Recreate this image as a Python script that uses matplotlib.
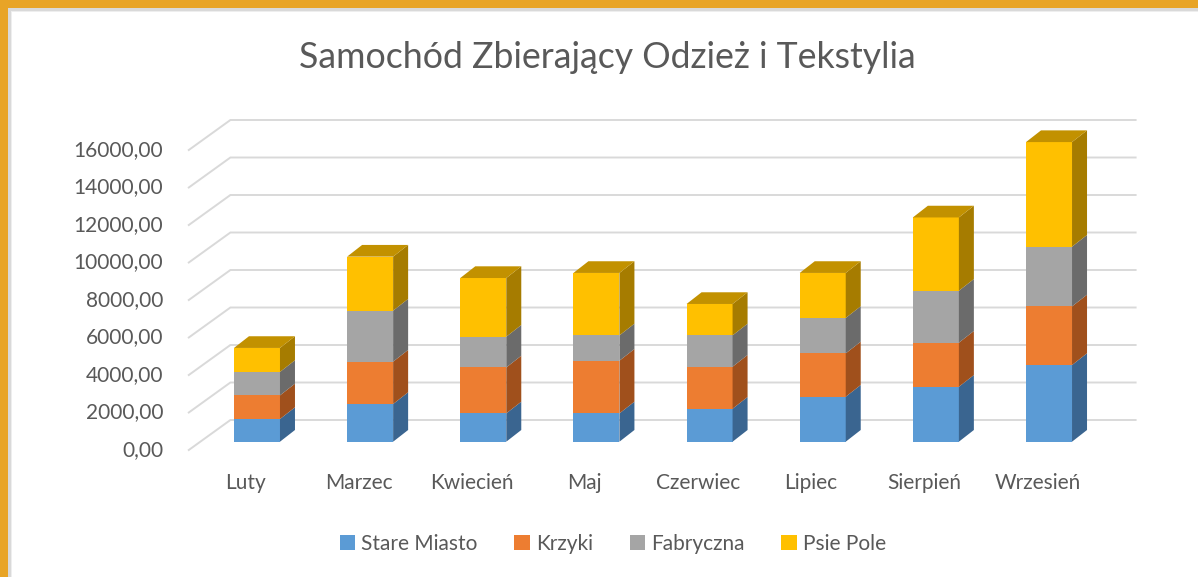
import matplotlib
matplotlib.use("Agg")
import matplotlib.pyplot as plt
from matplotlib.patches import Rectangle, Polygon, Patch
from matplotlib.transforms import ScaledTranslation
import numpy as np

# ---- data ----
months = ["Luty", "Marzec", "Kwiecień", "Maj", "Czerwiec", "Lipiec", "Sierpień", "Wrzesień"]
series_names = ["Stare Miasto", "Krzyki", "Fabryczna", "Psie Pole"]
stare_miasto = [1210, 2010, 1510, 1510, 1760, 2400, 2930, 4090]
krzyki       = [1260, 2260, 2450, 2810, 2240, 2310, 2350, 3125]
fabryczna    = [1250, 2720, 1640, 1350, 1670, 1890, 2770, 3185]
psie_pole    = [1280, 2880, 3130, 3330, 1675, 2400, 3910, 5580]
yticks = [0, 2000, 4000, 6000, 8000, 10000, 12000, 14000, 16000]
ytick_labels = ["0,00", "2000,00", "4000,00", "6000,00", "8000,00",
                "10000,00", "12000,00", "14000,00", "16000,00"]

front_cols = ["#5B9BD5", "#ED7D31", "#A5A5A5", "#FFC000"]
side_cols = ["#3A6590", "#A0501C", "#6B6B6B", "#A67C00"]
top_col = "#C29100"
text_col = "#595959"
grid_col = "#D9D9D9"
FONT = "Lato"

W, H = 1198, 577
fig = plt.figure(figsize=(W / 100, H / 100), dpi=100)
fig.patch.set_facecolor("white")

# axes = front plane of the bars
ax = fig.add_axes([200.4 / W, (H - 441.7) / H, 905.2 / W, 300 / H])
ax.set_xlim(-0.5, len(months) - 0.5)
ax.set_ylim(0, 16000)
ax.axis("off")

fig.canvas.draw()
p0 = ax.transData.transform((0, 0))
p1 = ax.transData.transform((1, 1000))
pxx = p1[0] - p0[0]           # px per category
pxy = (p1[1] - p0[1]) / 1000  # px per value unit

def px2d(dx, dy):
    return dx / pxx, dy / pxy

def off(dx, dy):
    return ax.transData + ScaledTranslation(dx / 100, dy / 100, fig.dpi_scale_trans)

bx, by = px2d(30, 21.7)     # back wall offset
fx, fy = px2d(-11.6, -8.3)  # front edge offset
dx, dy = px2d(15, 11.7)     # bar depth

x0, x1 = -0.5, len(months) - 0.5
# gridlines: left diagonal + back wall
for v in yticks:
    ax.plot([x0 + fx, x0 + bx, x1 + bx], [v + fy, v + by, v + by],
            color=grid_col, lw=1.4, zorder=1, clip_on=False,
            solid_joinstyle="miter")

# y labels
for v, lab in zip(yticks, ytick_labels):
    ax.text(x0, v, lab, transform=off(-37.1, -8.3), ha="right", va="center",
            fontsize=15, color=text_col, family=FONT)

# bars
data = [stare_miasto, krzyki, fabryczna, psie_pole]
xs = np.arange(len(months))
bw = 46 / pxx
bottom = np.zeros(len(months))
for si, vals in enumerate(data):
    vals = np.array(vals, dtype=float)
    ax.bar(xs, vals, bw, bottom=bottom, color=front_cols[si], zorder=3,
           clip_on=False, linewidth=0)
    for i in range(len(months)):
        xr = xs[i] + bw / 2
        b, t = bottom[i], bottom[i] + vals[i]
        ax.add_patch(Polygon([(xr, b), (xr + dx, b + dy), (xr + dx, t + dy), (xr, t)],
                             closed=True, facecolor=side_cols[si], edgecolor="none",
                             zorder=3, clip_on=False))
        if si == len(data) - 1:
            xl = xs[i] - bw / 2
            ax.add_patch(Polygon([(xl, t), (xl + dx, t + dy), (xr + dx, t + dy), (xr, t)],
                                 closed=True, facecolor=top_col, edgecolor="none",
                                 zorder=3, clip_on=False))
    bottom = bottom + vals

# x labels
for i, m in enumerate(months):
    ax.text(i, 0, m, transform=off(-11.6, -41.3), ha="center", va="center",
            fontsize=15, color=text_col, family=FONT)

# title
fig.text(607.5 / W, (H - 57) / H, "Samochód Zbierający Odzież i Tekstylia",
         ha="center", va="center", fontsize=25.7, color=text_col, family=FONT)

# legend
handles = [Patch(facecolor=c, edgecolor="none") for c in front_cols]
leg = fig.legend(handles, series_names, loc="center", bbox_to_anchor=(613 / W, (H - 544) / H),
                 ncol=4, frameon=False, handlelength=0.75, handleheight=0.75,
                 handletextpad=0.3, columnspacing=1.75,
                 prop={"family": FONT, "size": 15})
for t in leg.get_texts():
    t.set_color(text_col)

# orange frame with soft shadow
orange = "#E8A426"
fig.add_artist(Rectangle((0, 1 - 8 / H), 1, 8 / H, transform=fig.transFigure,
                         facecolor=orange, edgecolor="none", zorder=10))
fig.add_artist(Rectangle((0, 0), 8 / W, 1, transform=fig.transFigure,
                         facecolor=orange, edgecolor="none", zorder=10))
fig.add_artist(Rectangle((8 / W, 1 - 10.5 / H), 1, 2.5 / H, transform=fig.transFigure,
                         facecolor="#D9D9D9", edgecolor="none", zorder=9))
fig.add_artist(Rectangle((8 / W, 0), 2.5 / W, 1 - 8 / H, transform=fig.transFigure,
                         facecolor="#D9D9D9", edgecolor="none", zorder=9))
fig.add_artist(Rectangle((10.5 / W, 1 - 12 / H), 1, 1.5 / H, transform=fig.transFigure,
                         facecolor="#EEEEEE", edgecolor="none", zorder=9))
fig.add_artist(Rectangle((10.5 / W, 0), 1.5 / W, 1 - 10.5 / H, transform=fig.transFigure,
                         facecolor="#EEEEEE", edgecolor="none", zorder=9))

fig.savefig("out.png", dpi=100)
